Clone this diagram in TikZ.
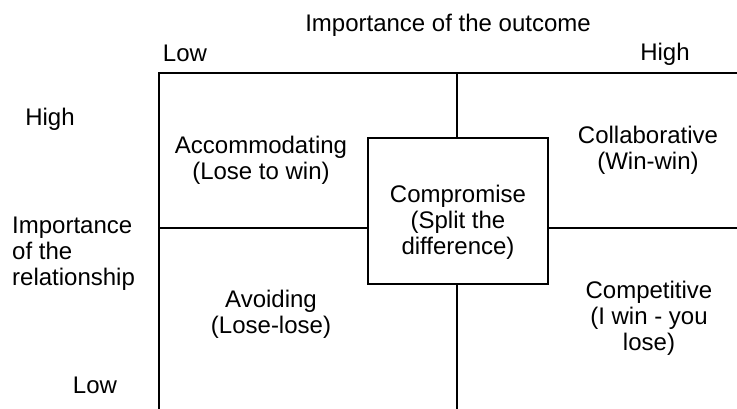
\documentclass[tikz,border=0pt]{standalone}
\usepackage{fontspec}
\setmainfont{Liberation Sans}
\begin{document}
\begin{tikzpicture}[x=1pt,y=-1pt,
  lbl/.style={inner sep=0pt,align=center,font=\fontsize{24}{26}\selectfont},
  grid/.style={line width=2.3pt,black},
  boxed/.style={draw,line width=2.3pt,fill=white,minimum width=180pt,minimum height=146pt,inner sep=0pt}]
\useasboundingbox (0,0) rectangle (737,409);
\fill[white] (0,0) rectangle (737,409);
\begin{scope}
\clip (0,0) rectangle (737,409);
\coordinate (tl) at (159,73);
\coordinate (tr) at (745,73);
\coordinate (bl) at (159,420);
\coordinate (mt) at (457,73);
\coordinate (mb) at (457,420);
\coordinate (ml) at (159,228);
\coordinate (mr) at (745,228);
\draw[grid] (tr) -- (tl) -- (bl);
\draw[grid] (mt) -- (mb);
\draw[grid] (ml) -- (mr);
\node[boxed] (comp) at (458,211) {};
\end{scope}
\node[lbl] (title) at (448,25) {Importance of the outcome};
\node[lbl] (lowtop) at (185,53) {Low};
\node[lbl] (hightop) at (665,54) {High};
\node[lbl] (highleft) at (50,119) {High};
\node[lbl,align=left,anchor=west] (rel) at (12,254) {Importance\\of the\\relationship};
\node[lbl] (lowleft) at (95,385) {Low};
\node[lbl] (acc) at (261,160) {Accommodating\\(Lose to win)};
\node[lbl] (col) at (648,150) {Collaborative\\(Win-win)};
\node[lbl] (comptext) at (458,222) {Compromise\\(Split the\\difference)};
\node[lbl] (avo) at (271,314) {Avoiding\\(Lose-lose)};
\node[lbl] (cpt) at (649,318) {Competitive\\(I win - you\\lose)};
\end{tikzpicture}
\end{document}
